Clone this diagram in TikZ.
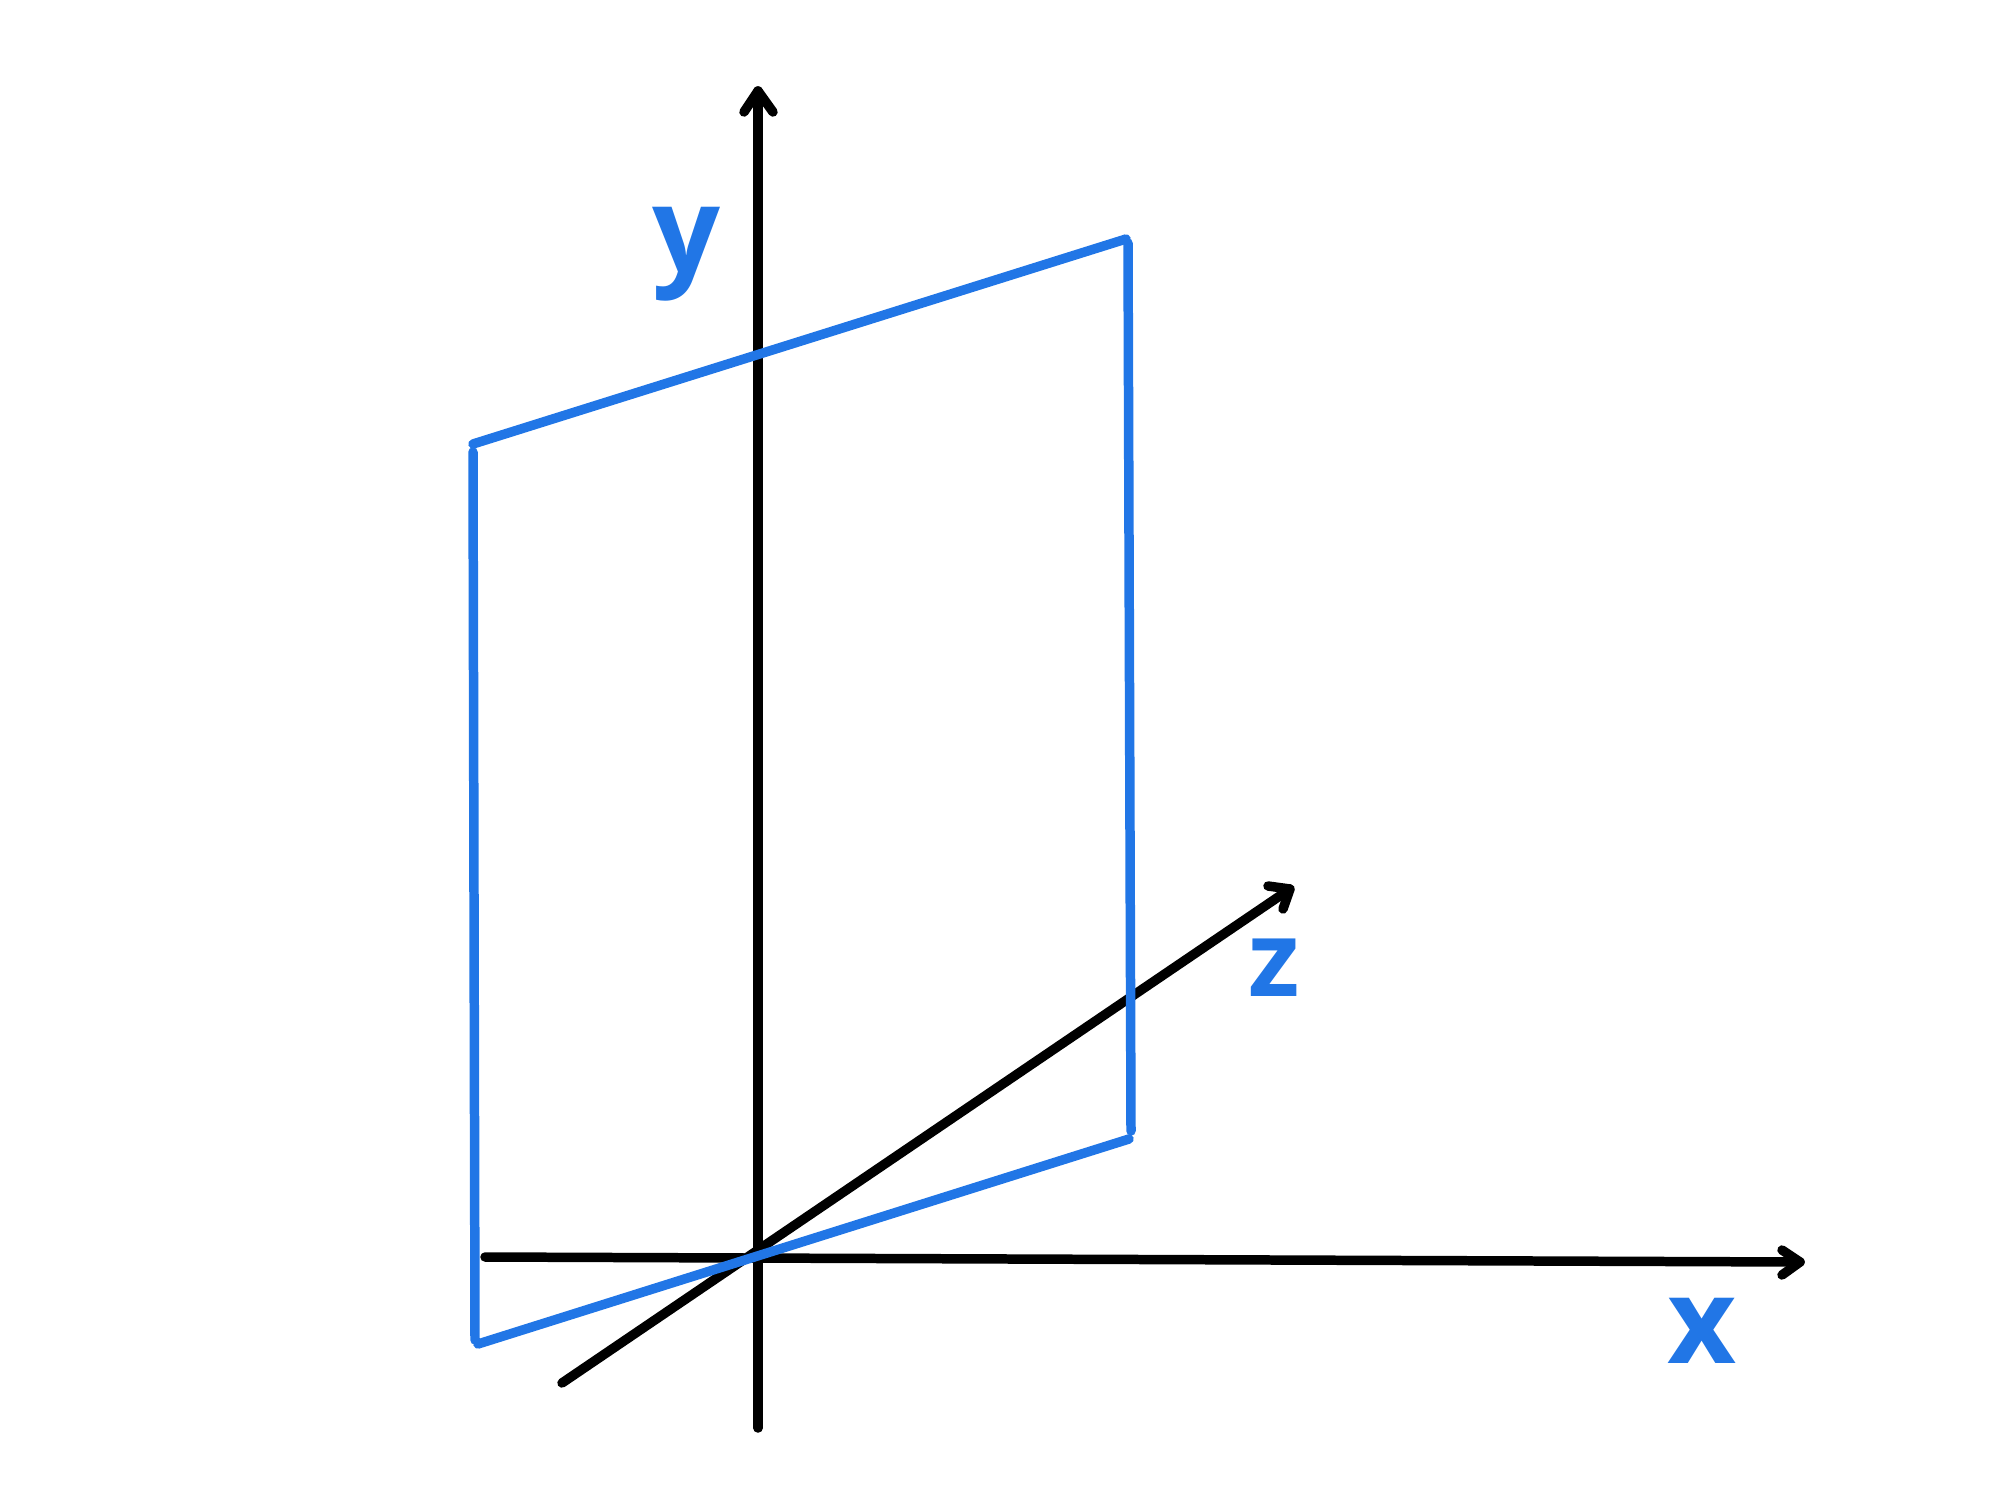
\documentclass[tikz,border=0pt]{standalone}
\usepackage{fontspec}
\newfontfamily\labfont{Open Sans}[UprightFont=* Bold]
\definecolor{planeblue}{RGB}{33,118,230}
\tikzset{
  axisline/.style={draw=black, line width=2.7pt, line cap=round, line join=round},
  planeline/.style={draw=planeblue, line width=2.7pt, line cap=round, line join=round},
  axlabel/.style={text=planeblue, inner sep=0pt, font=\labfont\fontsize{34}{36}\selectfont},
}
\begin{document}
\begin{tikzpicture}[x=0.01cm, y=-0.01cm]
\useasboundingbox (0,0) rectangle (2000,1500);
% axes
\coordinate (ybot) at (758,1428);
\coordinate (ytip) at (758,91);
\coordinate (xl) at (485,1257);
\coordinate (xtip) at (1800,1262);
\coordinate (zl) at (562,1383);
\coordinate (ztip) at (1290,889);
\draw[axisline] (ybot) -- (ytip);
\draw[axisline] (744,112) -- (ytip) -- (773,112);
\draw[axisline] (xl) -- (xtip);
\draw[axisline] (1782,1250) -- (xtip) -- (1782,1275);
\draw[axisline] (zl) -- (ztip);
\draw[axisline] (1268,886) -- (ztip) -- (1283,909);
% plane
\coordinate (tl) at (473,444);
\coordinate (tr) at (1126,239);
\coordinate (br) at (1131,1131);
\coordinate (bl) at (475,1340);
\draw[planeline] (tl) -- (tr);
\draw[planeline] (1128,243) -- (br);
\draw[planeline] (1129,1139) -- (478,1344);
\draw[planeline] (bl) -- (473,452);
% labels
\node[axlabel] (ylab) at (686,254) {y};
\node[axlabel] (xlab) at (1702,1331) {x};
\node[axlabel, font=\labfont\fontsize{30}{32}\selectfont] (zlab) at (1274,968) {z};
\end{tikzpicture}
\end{document}
